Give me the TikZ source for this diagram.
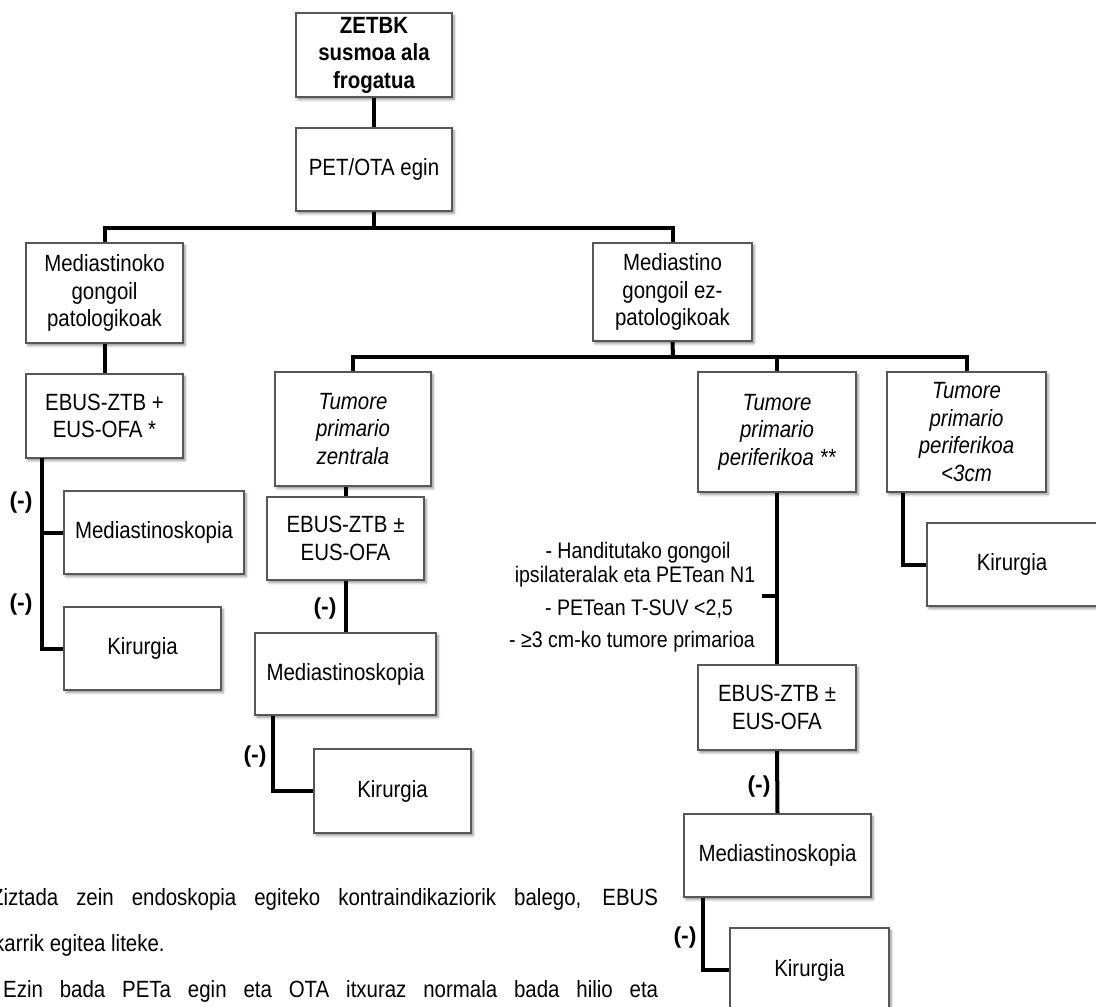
\documentclass[tikz,border=0pt]{standalone}
\usepackage{fontspec}
\setmainfont{Liberation Sans}[FakeStretch=0.87]
\newfontfamily\plainsans{Liberation Sans}
\usetikzlibrary{calc,shadows.blur}
\tikzset{
  boxst/.style={draw=black!66, line width=2pt, fill=white, inner sep=0pt, align=center,
    font=\fontsize{23.5}{27.5}\selectfont,
    blur shadow={shadow xshift=2pt, shadow yshift=-2.5pt, shadow blur radius=2.5pt, shadow opacity=45}},
  conn/.style={line width=4pt, line join=miter},
  neg/.style={font=\plainsans\bfseries\fontsize{23}{27}\selectfont, inner sep=0pt},
  crit/.style={font=\fontsize{22.5}{25}\selectfont, inner sep=0pt, anchor=base},
  note/.style={font=\fontsize{23.5}{27.5}\selectfont, inner sep=0pt, anchor=base west},
}
\begin{document}
\begin{tikzpicture}[x=1pt,y=-1pt]
\useasboundingbox (0,0) rectangle (1096,1007);
% boxes
\node[boxst, font=\bfseries\fontsize{23.5}{27.5}\selectfont, minimum width=156pt, minimum height=84pt] (top) at (374,55) {ZETBK\\susmoa ala\\frogatua};
\node[boxst, minimum width=156pt, minimum height=83pt] (pet) at (374,169.5) {PET/OTA egin};
\node[boxst, minimum width=157pt, minimum height=100pt] (medL) at (104.5,293) {Mediastinoko\\gongoil\\patologikoak};
\node[boxst, minimum width=159pt, minimum height=98pt] (medR) at (672.5,292) {Mediastino\\gongoil ez-\\patologikoak};
\node[boxst, minimum width=157pt, minimum height=84pt] (ebusL) at (104.5,416) {EBUS-ZTB +\\EUS-OFA *};
\node[boxst, minimum width=180pt, minimum height=83pt] (mediaL) at (154,532.5) {Mediastinoskopia};
\node[boxst, minimum width=157pt, minimum height=83pt] (kirL) at (142.5,648.5) {Kirurgia};
\node[boxst, minimum width=156pt, minimum height=114pt] (tumZ) at (353,429) {\itshape Tumore\\\itshape primario\\\itshape zentrala};
\node[boxst, minimum width=157pt, minimum height=83pt] (ebusC) at (345.5,538.5) {EBUS-ZTB ±\\EUS-OFA};
\node[boxst, minimum width=181pt, minimum height=82pt] (mediaC) at (345.5,674) {Mediastinoskopia};
\node[boxst, minimum width=157pt, minimum height=84pt] (kirC) at (392.5,791) {Kirurgia};
\node[boxst, minimum width=158pt, minimum height=120pt] (tumP) at (777,432) {\itshape Tumore\\\itshape primario\\\itshape periferikoa **};
\node[boxst, minimum width=159pt, minimum height=120pt] (tum3) at (966.5,432) {\itshape Tumore\\\itshape primario\\\itshape periferikoa\\\itshape <3cm};
\node[boxst, minimum width=170pt, minimum height=83pt] (kirR) at (1012,564.5) {Kirurgia};
\node[boxst, minimum width=158pt, minimum height=85pt] (ebusR) at (777,707.5) {EBUS-ZTB ±\\EUS-OFA};
\node[boxst, minimum width=187pt, minimum height=83pt] (mediaR) at (777.5,855.5) {Mediastinoskopia};
\node[boxst, minimum width=159pt, minimum height=84pt] (kirR2) at (809.5,970) {Kirurgia};
% junctions
\coordinate (j1) at (374,228);
\coordinate (j2) at (673,357);
\coordinate (tick) at (777,596);
\coordinate (vL) at (42,458);
% connectors
\draw[conn] (top.south) -- (pet.north);
\draw[conn] (pet.south) -- (j1);
\draw[conn] (medL.north) |- (j1) -| (medR.north);
\draw[conn] (medR.south) -- (j2);
\draw[conn] (tumZ.north) |- (j2) -| (tum3.north);
\draw[conn] (tumP.north) -- (tumP.north |- j2);
\draw[conn] (medL.south) -- (ebusL.north);
\draw[conn] (vL) |- (kirL.west);
\draw[conn] (mediaL.west) -- (mediaL.west -| vL);
\draw[conn] (ebusC.north) -- (ebusC.north |- tumZ.south);
\draw[conn] (ebusC.south) -- (mediaC.north);
\draw[conn] ($(mediaC.south west)+(19,0)$) |- (kirC.west);
\draw[conn] (tumP.south) -- (ebusR.north);
\draw[conn] (tick) -- ++(-15,0);
\draw[conn] ($(tum3.south west)+(17,0)$) |- (kirR.west);
\draw[conn] (ebusR.south) -- (mediaR.north);
\draw[conn] ($(mediaR.south west)+(20,0)$) |- (kirR2.west);
% (-) labels
\node[neg] (n1) at (21,503) {(-)};
\node[neg] (n2) at (21,605) {(-)};
\node[neg] (n3) at (325,609) {(-)};
\node[neg] (n4) at (255,757) {(-)};
\node[neg] (n5) at (759,787) {(-)};
\node[neg] (n6) at (685,938) {(-)};
% criteria text
\node[crit] (c1) at (638,558) {- Handitutako gongoil};
\node[crit] (c2) at (635,582) {ipsilateralak eta PETean N1};
\node[crit] (c3) at (639,615) {- PETean T-SUV <2,5};
\node[crit] (c4) at (632,647) {- ≥3 cm-ko tumore primarioa};
% notes
\node[note] (b1) at (-9,905) {\makebox[667pt][s]{Ziztada zein endoskopia egiteko kontraindikaziorik balego, EBUS}};
\node[note] (b2) at (-6,951) {karrik egitea liteke.};
\node[note] (b3) at (3,997) {\makebox[655pt][s]{Ezin bada PETa egin eta OTA itxuraz normala bada hilio eta}};
\end{tikzpicture}
\end{document}
